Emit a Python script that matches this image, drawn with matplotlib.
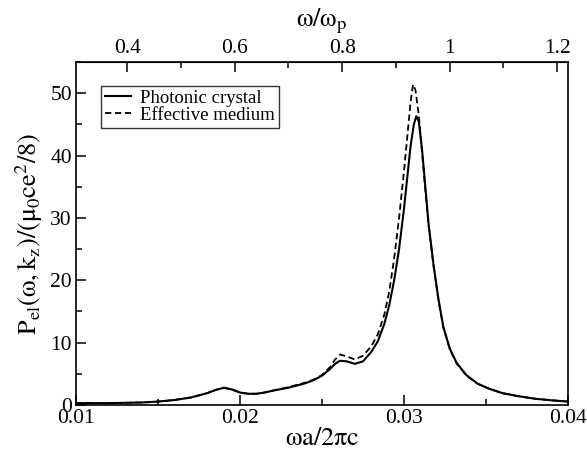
import matplotlib
matplotlib.use("Agg")
import matplotlib.pyplot as plt
from matplotlib.ticker import MultipleLocator, FixedLocator

plt.rcParams['font.family'] = ['Liberation Serif', 'DejaVu Serif']
plt.rcParams['mathtext.fontset'] = 'stix'

# omega a / 2 pi c
x_pc = [0.0100, 0.0120, 0.0140, 0.0150, 0.0160, 0.0170, 0.0180, 0.0185, 0.0190,
        0.0195, 0.0200, 0.0205, 0.0210, 0.0215, 0.0220, 0.0230, 0.0240, 0.0245,
        0.0250, 0.0255, 0.0258, 0.0261, 0.0265, 0.0270, 0.0275, 0.0280, 0.0284,
        0.0288, 0.0291, 0.0294, 0.0297, 0.0300, 0.0302, 0.0304, 0.0306, 0.03075,
        0.0309, 0.0311, 0.0313, 0.0315, 0.0318, 0.0321, 0.0324, 0.0328, 0.0332,
        0.0338, 0.0345, 0.0352, 0.0360, 0.0370, 0.0380, 0.0390, 0.0400]
y_pc = [0.3, 0.3, 0.4, 0.55, 0.8, 1.2, 1.9, 2.4, 2.75,
        2.5, 2.0, 1.8, 1.8, 2.0, 2.3, 2.8, 3.5, 4.0,
        4.7, 5.8, 6.6, 7.1, 7.0, 6.6, 7.0, 8.5, 10.2,
        13.0, 16.0, 20.0, 25.0, 31.5, 36.5, 41.5, 45.0, 46.3,
        45.5, 41.0, 35.0, 29.0, 22.5, 17.0, 12.5, 9.0, 6.8,
        4.8, 3.4, 2.6, 1.9, 1.4, 1.0, 0.75, 0.55]

x_em = [0.0100, 0.0120, 0.0140, 0.0150, 0.0160, 0.0170, 0.0180, 0.0185, 0.0190,
        0.0195, 0.0200, 0.0205, 0.0210, 0.0215, 0.0220, 0.0230, 0.0240, 0.0245,
        0.0250, 0.0255, 0.0258, 0.0261, 0.0265, 0.0270, 0.0275, 0.0280, 0.0284,
        0.0288, 0.0291, 0.0294, 0.0297, 0.0300, 0.0302, 0.0304, 0.03055, 0.0307,
        0.0309, 0.0311, 0.0313, 0.0315, 0.0318, 0.0321, 0.0324, 0.0328, 0.0332,
        0.0338, 0.0345, 0.0352, 0.0360, 0.0370, 0.0380, 0.0390, 0.0400]
y_em = [0.3, 0.3, 0.4, 0.55, 0.8, 1.2, 1.9, 2.4, 2.8,
        2.5, 2.0, 1.8, 1.8, 2.0, 2.3, 2.9, 3.6, 4.1,
        4.8, 6.1, 7.3, 8.1, 7.8, 7.3, 7.9, 9.4, 11.3,
        14.5, 18.2, 23.5, 30.0, 37.5, 43.0, 48.5, 51.4, 50.5,
        46.5, 40.5, 34.5, 28.8, 22.3, 16.8, 12.4, 8.9, 6.7,
        4.7, 3.4, 2.6, 1.9, 1.4, 1.0, 0.75, 0.55]

bottom_ticks = [0.01, 0.02, 0.03, 0.04]
top_ticks = [0.4, 0.6, 0.8, 1.0, 1.2]
top_tick_labels = ['0.4', '0.6', '0.8', '1', '1.2']
scale = 30.5  # omega/omega_p per (omega a / 2 pi c)

fig = plt.figure(figsize=(5.87, 4.59), dpi=100)
ax = fig.add_axes([76/587, 1 - 405/459, (568 - 76)/587, (405 - 62)/459])

ax.plot(x_pc, y_pc, color='black', lw=1.5, ls='-', label='Photonic crystal')
ax.plot(x_em, y_em, color='black', lw=1.3, ls=(0, (3.5, 2)), label='Effective medium')

ax.set_xlim(0.01, 0.04)
ax.set_ylim(0, 55)
ax.set_xticks(bottom_ticks)
ax.set_xticklabels(['0.01', '0.02', '0.03', '0.04'])
ax.xaxis.set_minor_locator(MultipleLocator(0.005))
ax.yaxis.set_major_locator(MultipleLocator(10))
ax.yaxis.set_minor_locator(MultipleLocator(5))
ax.tick_params(axis='both', which='major', direction='in', length=7, width=1.1,
               labelsize=15.5, pad=3, top=False, right=False)
ax.tick_params(axis='both', which='minor', direction='in', length=4, width=1.1,
               top=False, right=False)
for s in ax.spines.values():
    s.set_linewidth(1.2)

ax.set_xlabel(r'$\mathrm{\omega a/2\pi c}$', fontsize=19, labelpad=0)
ax.set_ylabel(r'$\mathrm{P_{el}(\omega,k_z)/(\mu_0 ce^2/8)}$', fontsize=19, labelpad=4)

sec = ax.secondary_xaxis('top', functions=(lambda v: v * scale, lambda v: v / scale))
sec.xaxis.set_major_locator(FixedLocator(top_ticks))
sec.set_xticklabels(top_tick_labels)
sec.xaxis.set_minor_locator(MultipleLocator(0.1))
sec.tick_params(axis='x', which='major', direction='in', length=7, width=1.1,
                labelsize=15.5, pad=3)
sec.tick_params(axis='x', which='minor', direction='in', length=4, width=1.1)
sec.set_xlabel(r'$\mathrm{\omega/\omega_p}$', fontsize=19, labelpad=9)

leg = ax.legend(loc='upper left', bbox_to_anchor=(101/587, 1 - 86/459),
                bbox_transform=fig.transFigure, fontsize=13.5, frameon=True,
                fancybox=False, edgecolor='black', handlelength=1.4,
                handletextpad=0.5, borderpad=0.2, labelspacing=0.0,
                borderaxespad=0)
leg.get_frame().set_linewidth(1.0)

fig.savefig('out.png', dpi=100)
